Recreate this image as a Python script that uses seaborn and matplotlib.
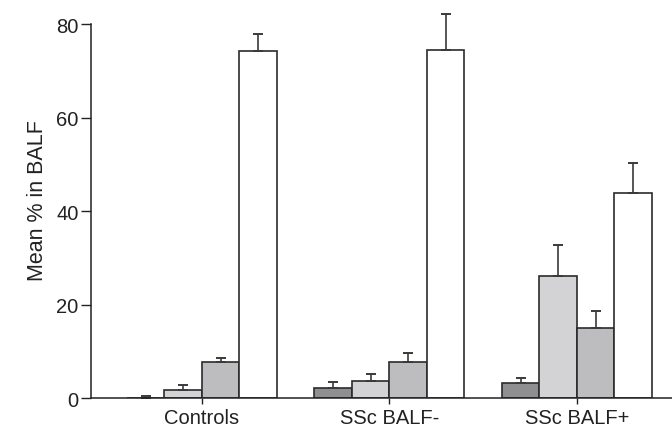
import matplotlib
matplotlib.use("Agg")
import matplotlib.pyplot as plt
import seaborn as sns
import pandas as pd
import numpy as np

groups = ["Controls", "SSc BALF-", "SSc BALF+"]
cell_types = ["Neutrophils", "Eosinophils", "Lymphocytes", "Macrophages"]
neutrophils = [0.1, 2.1, 3.3]
eosinophils = [1.8, 3.6, 26.2]
lymphocytes = [7.7, 7.7, 14.9]
macrophages = [74.3, 74.5, 43.9]
neutrophils_err = [0.3, 1.3, 0.9]
eosinophils_err = [0.9, 1.6, 6.6]
lymphocytes_err = [0.8, 2.0, 3.8]
macrophages_err = [3.6, 7.7, 6.4]
bar_colors = ["#8f8f91", "#d3d3d5", "#bdbdbf", "#ffffff"]

values = [neutrophils, eosinophils, lymphocytes, macrophages]
errors = [neutrophils_err, eosinophils_err, lymphocytes_err, macrophages_err]
rows = []
for ct, vals, errs in zip(cell_types, values, errors):
    for g, v, e in zip(groups, vals, errs):
        rows.append({"group": g, "cell": ct, "value": v, "err": e})
df = pd.DataFrame(rows)

sns.set_style("ticks")
plt.rcParams["font.family"] = ["Liberation Sans", "DejaVu Sans"]

fig = plt.figure(figsize=(6.72, 4.31), dpi=100)
ax = fig.add_axes([0.1354, 0.0742, 0.8646, 0.922])

sns.barplot(data=df, x="group", y="value", hue="cell", order=groups,
            hue_order=cell_types, palette=bar_colors, width=0.8,
            edgecolor="#2b2b2b", linewidth=1.2, errorbar=None,
            legend=False, ax=ax, saturation=1)

for ct, container in zip(cell_types, ax.containers):
    sub = df[df["cell"] == ct].set_index("group").loc[groups]
    xs = [p.get_x() + p.get_width() / 2 for p in container.patches]
    ax.errorbar(xs, sub["value"].values,
                yerr=[np.zeros(len(xs)), sub["err"].values],
                fmt="none", ecolor="#3a3a3a", elinewidth=1.2,
                capsize=3.3, capthick=1.4, zorder=1)

ax.set_xlim(-0.592, 2.507)
ax.set_ylim(0, 85)
ax.set_yticks([0, 20, 40, 60, 80])
ax.spines["left"].set_bounds(0, 80)
ax.spines["top"].set_visible(False)
ax.spines["right"].set_visible(False)
for s in ["left", "bottom"]:
    ax.spines[s].set_color("#222222")
    ax.spines[s].set_linewidth(1.1)
ax.tick_params(axis="y", length=7, width=1, color="#222222",
               labelsize=14.5, labelcolor="#222222", pad=2)
ax.tick_params(axis="x", length=4, width=1, color="#222222",
               labelsize=14.5, labelcolor="#222222", pad=3.5)
ax.set_xlabel("")
ax.set_ylabel("Mean % in BALF", fontsize=15.5, color="#222222", labelpad=5.5)

fig.savefig("out.png", dpi=100)
